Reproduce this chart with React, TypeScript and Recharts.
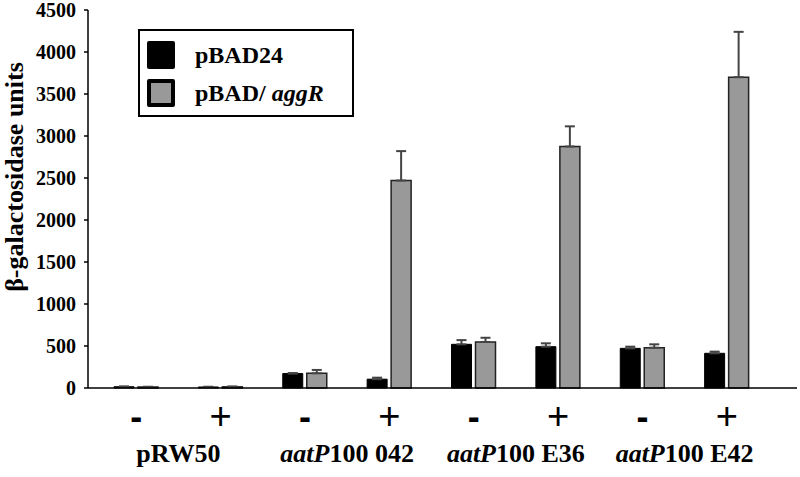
import React from "react";
import { BarChart, Bar, XAxis, YAxis, ErrorBar, Legend } from "recharts";

// β-galactosidase activity
const conditions = ["-", "+", "-", "+", "-", "+", "-", "+"];
const groupItalic = ["", "aatP", "aatP", "aatP"];
const groupRest = ["pRW50", "100 042", "100 E36", "100 E42"];
const pBAD24 = [15, 12, 172, 105, 520, 492, 472, 413];
const pBAD24Err = [3, 3, 6, 18, 50, 40, 20, 20];
const aggR = [12, 14, 175, 2470, 548, 2875, 480, 3700];
const aggRErr = [3, 4, 40, 350, 50, 240, 40, 540];
const yTicks = [0, 500, 1000, 1500, 2000, 2500, 3000, 3500, 4000, 4500];

const W = 800;
const H = 477;
const Y_AXIS_W = 88;
const MARGIN_RIGHT = 3;
const PAD_L = 6;
const PAD_R = 28;
const HALF_BAND = (W - Y_AXIS_W - MARGIN_RIGHT - PAD_L - PAD_R) / conditions.length / 2;

const SERIF = "'Liberation Serif', 'Times New Roman', serif";
const SANS = "'Liberation Sans', Arial, sans-serif";
const GRAY = "#999999";

const rows = conditions.map((c, i) => ({
  key: String(i),
  cond: c,
  pBAD24: pBAD24[i],
  pBAD24Err: [0, pBAD24Err[i]],
  aggR: aggR[i],
  aggRErr: [0, aggRErr[i]],
}));

function CondTick(props: any) {
  const { x, y, payload } = props;
  const i = Number(payload.value);
  const g = i / 2;
  const minus = conditions[i] === "-";
  return (
    <g>
      <text
        x={x}
        y={y + 41}
        textAnchor="middle"
        fontFamily={SANS}
        fontWeight={minus ? "bold" : "normal"}
        fontSize={minus ? 36 : 38}
        fill="#000"
      >
        {conditions[i]}
      </text>
      {i % 2 === 0 && (
        <text x={x + HALF_BAND} y={y + 74} textAnchor="middle" fontFamily={SERIF} fontWeight="bold" fontSize={26} fill="#000">
          {groupItalic[g] && <tspan fontStyle="italic">{groupItalic[g]}</tspan>}
          <tspan>{groupRest[g]}</tspan>
        </text>
      )}
    </g>
  );
}

function YLabel(props: any) {
  const vb = props.viewBox || { x: 0 };
  const cx = 14;
  const cy = 177;
  return (
    <text
      x={cx}
      y={cy}
      transform={`rotate(-90, ${cx}, ${cy})`}
      textAnchor="middle"
      dominantBaseline="central"
      fontFamily={SERIF}
      fontWeight="bold"
      fontSize={26}
      fill="#000"
    >
      β-galactosidase units
    </text>
  );
}

function LegendBox() {
  const item = (fill: string, border: number, label: React.ReactNode) => (
    <div style={{ display: "flex", alignItems: "center", height: 28, marginBottom: 10 }}>
      <div
        style={{
          width: 28,
          height: 28,
          boxSizing: "border-box",
          background: fill,
          border: `${border}px solid #000`,
          borderRadius: 2,
          marginRight: 20,
        }}
      />
      <span style={{ fontFamily: SERIF, fontWeight: "bold", fontSize: 24, lineHeight: "28px" }}>{label}</span>
    </div>
  );
  return (
    <div
      style={{
        width: 216,
        height: 88,
        boxSizing: "border-box",
        border: "2px solid #000",
        padding: "10px 0 0 7px",
        background: "#fff",
        textAlign: "left",
      }}
    >
      {item("#000", 0, "pBAD24")}
      {item(GRAY, 4, <>pBAD/ <i>aggR</i></>)}
    </div>
  );
}

export default function App() {
  return (
    <div style={{ position: "absolute", left: 0, top: 0, width: W, height: H, background: "#fff" }}>
      <BarChart
        width={W}
        height={H}
        data={rows}
        margin={{ top: 10, right: MARGIN_RIGHT, bottom: 0, left: 0 }}
        barSize={20}
        barGap={4}
      >
        <XAxis
          dataKey="key"
          padding={{ left: PAD_L, right: PAD_R }}
          height={89}
          tickLine={false}
          tickSize={0}
          tickMargin={0}
          axisLine={{ stroke: "#000", strokeWidth: 1.5 }}
          tick={<CondTick />}
          interval={0}
        />
        <YAxis
          width={Y_AXIS_W}
          domain={[0, 4500]}
          ticks={yTicks}
          interval={0}
          tickSize={4}
          tickMargin={8}
          axisLine={{ stroke: "#000", strokeWidth: 1.5 }}
          tickLine={{ stroke: "#000", strokeWidth: 1.5 }}
          tick={{ fontFamily: SERIF, fontWeight: "bold", fontSize: 20, fill: "#000" }}
          label={<YLabel />}
        />
        <Legend
          layout="horizontal"
          verticalAlign="middle"
          align="center"
          content={<LegendBox />}
          wrapperStyle={{ left: 138, top: 29, width: 216, height: 88 }}
        />
        <Bar dataKey="pBAD24" fill="#000" stroke="#000" strokeWidth={1} isAnimationActive={false}>
          <ErrorBar dataKey="pBAD24Err" direction="y" width={5} stroke="#444" strokeWidth={2} />
        </Bar>
        <Bar dataKey="aggR" fill={GRAY} stroke="#222" strokeWidth={1.5} isAnimationActive={false}>
          <ErrorBar dataKey="aggRErr" direction="y" width={5} stroke="#444" strokeWidth={2} />
        </Bar>
      </BarChart>
    </div>
  );
}
